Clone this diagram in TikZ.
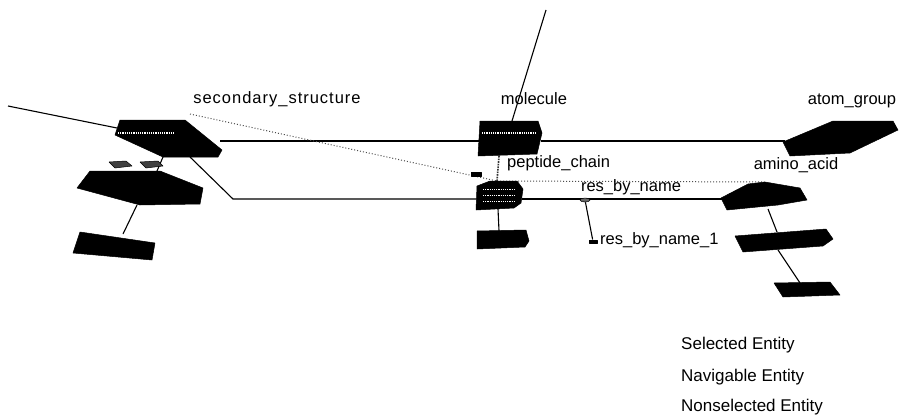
\documentclass[tikz,border=0pt]{standalone}
\usepackage{fontspec}
\setmainfont{Liberation Sans}
\usetikzlibrary{shapes.geometric}
\begin{document}
\begin{tikzpicture}[x=1pt,y=-1pt,
  lbl/.style={font=\fontsize{16.5}{19}\selectfont, inner sep=0pt},
  leg/.style={font=\fontsize{17}{20}\selectfont, inner sep=0pt, anchor=west},
  ent/.style={fill=black, draw=black, line width=0.5pt, line join=round},
  conn/.style={line width=1.1pt},
  navconn/.style={line width=1pt, dotted, black!70},
  tex/.style={white, line width=1.2pt, densely dotted}]
\useasboundingbox (0,0) rectangle (901,415);

% ---- named connection points ----
\coordinate (far1) at (8,106);
\coordinate (ssL) at (117,128);
\coordinate (ssR) at (220,141);
\coordinate (ssB) at (190,157);
\coordinate (ssBot) at (163,157);
\coordinate (bend) at (233,199);
\coordinate (mlL) at (479,141);
\coordinate (mlR) at (541,141);
\coordinate (mlT) at (512,121);
\coordinate (mlB) at (499,156);
\coordinate (far2) at (546,10);
\coordinate (agL) at (785,141);
\coordinate (pcL) at (476,199);
\coordinate (pcR) at (522,199);
\coordinate (pcT) at (497,181);
\coordinate (pcB) at (498,209);
\coordinate (pcBB) at (499,231);
\coordinate (aaL) at (722,199);
\coordinate (aaT) at (765,182);
\coordinate (aaB) at (768,209);
\coordinate (aa2T) at (777,232);
\coordinate (aa2B) at (778,250);
\coordinate (aa3T) at (800,283);
\coordinate (s2T) at (157,171);
\coordinate (s2B) at (137,205);
\coordinate (s3T) at (123,234);
\coordinate (ssDot) at (190,114);

% ---- connectors ----
\draw[conn] (far1) -- (ssL);
\draw[conn] (ssR) -- (mlL);
\draw[conn] (mlR) -- (agL);
\draw[conn] (ssB) -- (bend) -- (pcL);
\draw[conn] (pcR) -- (aaL);
\draw[conn] (mlT) -- (far2);
\draw[conn] (ssBot) -- (s2T);
\draw[conn] (s2B) -- (s3T);
\draw[conn] (pcB) -- (pcBB);
\draw[conn] (aaB) -- (aa2T);
\draw[conn] (aa2B) -- (aa3T);
\draw[navconn] (ssDot) -- (pcT);
\draw[navconn] (pcT) -- (aaT);
\draw[line width=1.6pt, densely dotted, black!80] (mlB) -- (pcT);

% ---- res_by_name ----
\node[ent, ellipse, minimum width=10pt, minimum height=4pt, inner sep=0pt, fill=black!60] (rbn) at (585,200) {};
\node[ent, rectangle, minimum width=8pt, minimum height=3.5pt, inner sep=0pt] (rbn1) at (593,241.5) {};
\draw[conn] (rbn) -- (rbn1);

% ---- entity shapes ----
% secondary_structure
\filldraw[ent] (120,120) -- (185,120) -- (222,150) -- (218,157) -- (163,157) -- (115,135) -- cycle;
\draw[tex] (118,133) -- (175,133);
% small items below
\filldraw[ent, fill=black!75] (109,162) -- (126,161) -- (132,166) -- (115,168) -- cycle;
\filldraw[ent, fill=black!75] (140,162) -- (158,161) -- (163,166) -- (146,168) -- cycle;
% second
\filldraw[ent] (90,171) -- (160,171) -- (203,188) -- (200,204) -- (140,205) -- (77,188) -- cycle;
% third
\filldraw[ent] (80,232) -- (155,243) -- (152,260) -- (73,253) -- cycle;

% molecule
\filldraw[ent] (480,121) -- (538,121) -- (542,133) -- (537,154) -- (478,156) -- cycle;
\draw[tex] (482,133) -- (537,133);

% atom_group
\filldraw[ent] (783,142) -- (833,121) -- (893,121) -- (898,130) -- (850,153) -- (790,156) -- cycle;

% peptide_chain
\filldraw[ent] (477,186) -- (490,181) -- (517,181) -- (523,189) -- (521,203) -- (514,208) -- (476,210) -- cycle;
\draw[tex, line width=0.8pt] (483,189) -- (515,189);
\draw[tex, line width=0.8pt] (483,195) -- (515,195);
\draw[tex, line width=0.8pt] (483,201) -- (515,201);
\filldraw[ent] (477,231) -- (526,230) -- (529,241) -- (525,247) -- (477,249) -- cycle;
% small item near peptide_chain
\filldraw[ent] (471,172) rectangle (481,176);

% amino_acid
\filldraw[ent] (721,198) -- (748,184) -- (765,182) -- (800,188) -- (807,200) -- (778,205) -- (727,210) -- cycle;
\filldraw[ent] (735,236) -- (826,229) -- (833,239) -- (823,246) -- (743,252) -- cycle;
\filldraw[ent] (774,283) -- (830,282) -- (840,295) -- (783,297) -- cycle;

% ---- labels ----
\node[lbl] (tss) at (277,99) {\addfontfeature{LetterSpace=6}secondary\_structure};
\node[lbl] (tml) at (534,99) {molecule};
\node[lbl] (tag) at (852,101) {atom\_group};
\node[lbl, anchor=west] (tpc) at (507,163) {peptide\_chain};
\node[lbl] (taa) at (796,165) {amino\_acid};
\node[lbl] (trb) at (631,187) {res\_by\_name};
\node[lbl, anchor=west] (trb1) at (600,240) {res\_by\_name\_1};

% ---- legend ----
\node[leg] (lg1) at (681,345) {Selected Entity};
\node[leg] (lg2) at (681,377) {Navigable Entity};
\node[leg] (lg3) at (681,407) {Nonselected Entity};
\end{tikzpicture}
\end{document}
